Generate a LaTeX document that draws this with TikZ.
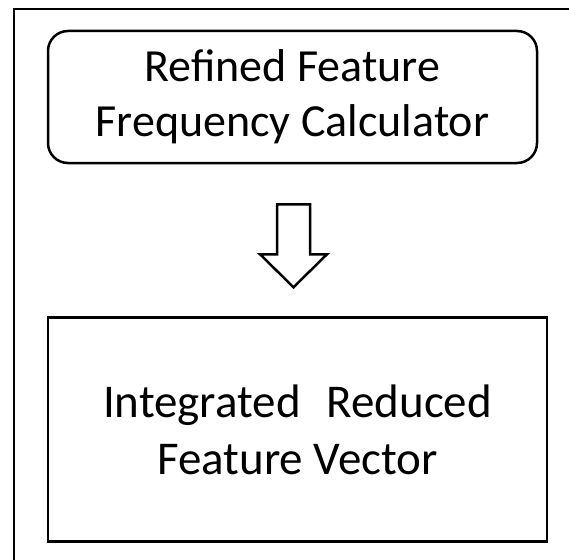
\documentclass[tikz,border=0pt]{standalone}
\usepackage{fontspec}
\setmainfont{Carlito}
\usetikzlibrary{positioning,calc}
\tikzset{
  calcbox/.style={draw,line width=2.5pt,rounded corners=20pt,minimum width=489pt,minimum height=132pt,inner sep=0pt,align=center,font=\fontsize{46}{55}\selectfont},
  vecbox/.style={draw,line width=2.5pt,minimum width=499pt,minimum height=224pt,inner sep=0pt,align=center,font=\fontsize{47}{57}\selectfont},
  hollow/.style={draw,line width=2.5pt,fill=white,line join=miter},
}

\begin{document}
\begin{tikzpicture}[x=1pt,y=-1pt]
 \useasboundingbox (0,0) rectangle (569,559);
 % outer frame, cut by the page on the right and below
 \draw[line width=2.5pt] (14,600) -- (14,9) -- (600,9);
 \node[calcbox] (freq) at (292.5,97) {Refined Feature\\Frequency Calculator};
 \node[vecbox,below=152pt of freq,xshift=5pt] (vec) {Integrated\hspace{0.55em}Reduced\\Feature Vector};
 % hollow block arrow
 \coordinate (shaft) at ($(freq.south)+(1,40)$);
 \draw[hollow] (shaft) ++(-16.5,0) -- ++(33,0) -- ++(0,50) -- ++(17,0) -- ++(-33.5,33) -- ++(-33.5,-33) -- ++(17,0) -- cycle;
\end{tikzpicture}
\end{document}
